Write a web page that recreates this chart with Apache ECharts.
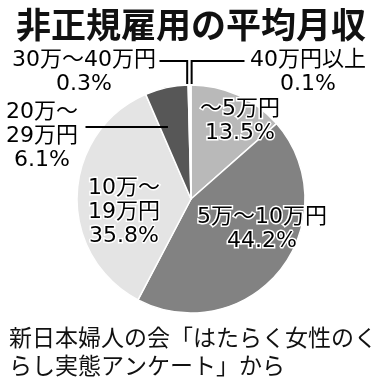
<!DOCTYPE html>
<html><head><meta charset="utf-8">
<script src="https://cdn.jsdelivr.net/npm/echarts@6/dist/echarts.min.js"></script>
<style>html,body{margin:0;padding:0;background:#fff}#c{width:382px;height:379px}</style>
</head><body><div id="c"></div>
<script>
const titleText = '非正規雇用の平均月収';
const sourceText = '新日本婦人の会「はたらく女性のく\nらし実態アンケート」から';
const categories = ['～5万円', '5万～10万円', '10万～19万円', '20万～29万円', '30万～40万円', '40万円以上'];
const labelNames = ['～5万円', '5万～10万円', '10万～\n19万円', '20万～\n29万円', '30万～40万円', '40万円以上'];
const shares = [13.5, 44.2, 35.8, 6.1, 0.3, 0.1];
const sliceColors = ['#b9b9b9', '#828282', '#e4e4e4', '#575757', '#ffffff', '#ffffff'];
const labelPos = [[240, 121], [262, 229], [124, 212], [42, 136], [84, 72], [308, 72]];
const CENTER = [191, 199];
const RADIUS = 114;
const LINE_H = 24;

const total = shares.reduce((a, b) => a + b, 0);
function midDir(i) {
  let before = 0;
  for (let j = 0; j < i; j++) before += shares[j];
  const a = (before + shares[i] / 2) / total * Math.PI * 2;
  return [Math.sin(a), -Math.cos(a)];
}

const chart = echarts.init(document.getElementById('c'), null, { renderer: 'canvas' });
const sliceData = categories.map((name, i) => ({
  name, value: shares[i], itemStyle: { color: sliceColors[i] }
}));
const labelData = categories.map((name, i) => {
  const outside = i >= 3;
  return {
    name, value: shares[i],
    label: { position: outside ? 'outside' : 'inside' },
    labelLine: { show: outside, lineStyle: { color: '#000', width: 2 } }
  };
});

const common = {
  type: 'pie', silent: true, center: CENTER, radius: RADIUS,
  startAngle: 90, clockwise: true, avoidLabelOverlap: false
};

chart.setOption({
  animation: false,
  backgroundColor: '#fff',
  title: [
    { text: titleText, left: 'center', top: 2,
      textStyle: { fontFamily: 'Noto Sans CJK JP', fontWeight: 'bold', fontSize: 35, color: '#111' } },
    { text: sourceText, left: 4, top: 318,
      textStyle: { fontFamily: 'Noto Sans CJK JP', fontWeight: 'normal', fontSize: 23, lineHeight: 28, color: '#111' } }
  ],
  series: [
    Object.assign({}, common, {
      z: 2,
      itemStyle: { borderColor: '#fff', borderWidth: 1.5 },
      label: { show: false }, labelLine: { show: false },
      data: sliceData
    }),
    Object.assign({}, common, {
      z: 5,
      itemStyle: { color: 'rgba(0,0,0,0)', borderWidth: 0 },
      label: {
        show: true,
        formatter: p => labelNames[p.dataIndex] + '\n' + p.value.toFixed(1) + '%',
        fontFamily: 'DejaVu Sans, Noto Sans CJK JP',
        fontSize: 22,
        lineHeight: LINE_H,
        color: '#000',
        textBorderColor: '#fff',
        textBorderWidth: 3,
        align: 'center'
      },
      labelLayout: function (p) {
        const i = p.dataIndex;
        const pos = labelPos[i];
        const res = { x: pos[0], y: pos[1], align: 'center', verticalAlign: 'middle' };
        const d = midDir(i);
        const w = p.labelRect.width;
        if (i === 3) {
          const sx = CENTER[0] + d[0] * RADIUS * 0.94;
          const ly = pos[1] - 9;
          const ex = pos[0] + w / 2 + 6;
          res.labelLinePoints = [[sx, ly], [(sx + ex) / 2, ly], [ex, ly]];
        } else if (i === 4 || i === 5) {
          const sx = CENTER[0] + d[0] * (RADIUS + 1) + (i === 4 ? -2 : 1);
          const sy = CENTER[1] + d[1] * (RADIUS + 1);
          const ly = pos[1] - LINE_H / 2 + 1;
          const ex = i === 4 ? pos[0] + w / 2 + 2 : pos[0] - w / 2 - 4;
          res.labelLinePoints = [[sx, sy], [sx, ly], [ex, ly]];
        }
        return res;
      },
      data: labelData
    })
  ]
});
</script></body></html>
